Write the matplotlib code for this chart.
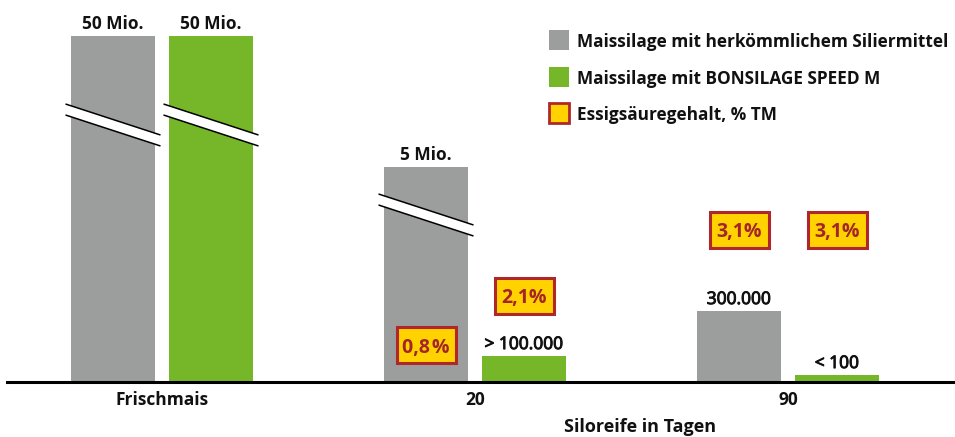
import numpy as np
import matplotlib.pyplot as plt
import matplotlib.patheffects as pe
from matplotlib.patches import Rectangle, Polygon

# --- data ---
groups = ['Frischmais', '20', '90']
series_names = ['Maissilage mit herkömmlichem Siliermittel',
                'Maissilage mit BONSILAGE SPEED M']
acid_name = 'Essigsäuregehalt, % TM'

# displayed bar heights (chart is drawn with axis breaks, so heights are visual)
conv_height = [345.5, 214.5, 70.5]
speed_height = [345.5, 25.5, 6.5]
conv_labels = ['50 Mio.', '5 Mio.', '300.000']
speed_labels = ['50 Mio.', '> 100.000', '< 100']

# axis-break positions (visual height of the break centre), None = no break
conv_break = [256.5, 166.5, None]
speed_break = [256.5, None, None]

# acetic acid content, % of dry matter, with the height of the box centre
conv_acid = [None, '0,8\u200a%', '3,1%']
speed_acid = [None, '2,1%', '3,1%']
conv_acid_y = [None, 36.5, 152]
speed_acid_y = [None, 86, 152]

GRAY = '#9c9d9d'
GREEN = '#76b72a'
YELLOW = '#ffd200'
RED = '#b0272b'
RED_TXT = '#a3252a'
INK = '#111111'

plt.rcParams['font.family'] = ['Open Sans', 'DejaVu Sans']

W, H = 955, 437
fig = plt.figure(figsize=(W / 100, H / 100), dpi=100)
axis_y = 381.5
ax = fig.add_axes([7 / W, (H - axis_y) / H, 1 - 7 / W, axis_y / H])

px = 1 / 313  # x-units per pixel
ax.set_xlim((7 - 162) * px, (W - 162) * px)
ax.set_ylim(0, axis_y)

x = np.arange(len(groups))
width = 84 * px
off = 49 * px
semibold = [pe.withStroke(linewidth=0.7, foreground=INK)]

for xs, heights, color, labels, breaks, acids, acid_y in [
        (x - off, conv_height, GRAY, conv_labels, conv_break, conv_acid, conv_acid_y),
        (x + off, speed_height, GREEN, speed_labels, speed_break, speed_acid, speed_acid_y)]:
    bars = ax.bar(xs, heights, width, color=color, zorder=2)
    for bar, lab in zip(bars, labels):
        bold = 'Mio' in lab
        ax.annotate(lab, (bar.get_x() + bar.get_width() / 2, bar.get_height()),
                    xytext=(0, 5), textcoords='offset points', ha='center', va='baseline',
                    fontsize=12.5, fontweight='bold' if bold else 'normal', color=INK,
                    path_effects=None if bold else semibold)
    # axis breaks: white diagonal band with black edges
    for xc, yb in zip(xs, breaks):
        if yb is None:
            continue
        half = 47.5 * px
        dy = 15.5
        gap = 5.5
        up = [(xc - half, yb + gap + dy), (xc + half, yb + gap - dy)]
        lo = [(xc - half, yb - gap + dy), (xc + half, yb - gap - dy)]
        ax.add_patch(Polygon(up + lo[::-1], closed=True, facecolor='white',
                             edgecolor='none', zorder=3))
        for seg in (up, lo):
            ax.plot([p[0] for p in seg], [p[1] for p in seg], color='black',
                    lw=1.1, zorder=4, solid_capstyle='butt')
    # acetic acid boxes
    for xc, txt, yc in zip(xs, acids, acid_y):
        if txt is None:
            continue
        bw, bh = 59 * px, 36
        ax.add_patch(Rectangle((xc - bw / 2, yc - bh / 2), bw, bh, facecolor=YELLOW,
                               edgecolor=RED, lw=2.2, zorder=5))
        ax.text(xc, yc, txt, ha='center', va='center_baseline', fontsize=14,
                fontweight='bold', color=RED_TXT, zorder=6)

for s in ['top', 'right', 'left']:
    ax.spines[s].set_visible(False)
ax.spines['bottom'].set_linewidth(2.2)
ax.spines['bottom'].set_color('black')
ax.spines['bottom'].set_zorder(7)
ax.set_yticks([])
ax.set_xticks(x)
ax.set_xticklabels(groups, fontsize=12.5, fontweight='bold', color=INK)
ax.tick_params(axis='x', length=0, pad=7)
ax.patch.set_alpha(0)

fig.text(640 / W, (H - 432) / H, 'Siloreife in Tagen', ha='center', va='baseline',
         fontsize=13, fontweight='bold', color=INK)

# legend drawn by hand
legend_rows = [(GRAY, 'none', series_names[0]),
               (GREEN, 'none', series_names[1]),
               (YELLOW, RED, acid_name)]
for i, (fc, ec, txt) in enumerate(legend_rows):
    yc = 40 + i * 36.5
    fig.patches.append(Rectangle((549 / W, (H - yc - 10) / H), 20 / W, 20 / H,
                                 transform=fig.transFigure, facecolor=fc,
                                 edgecolor=ec, lw=2 if ec != 'none' else 0))
    fig.text(577 / W, (H - yc) / H, txt, ha='left', va='center_baseline',
             fontsize=12.4, fontweight='bold', color=INK)

fig.savefig('out.png', dpi=100, facecolor='white')
